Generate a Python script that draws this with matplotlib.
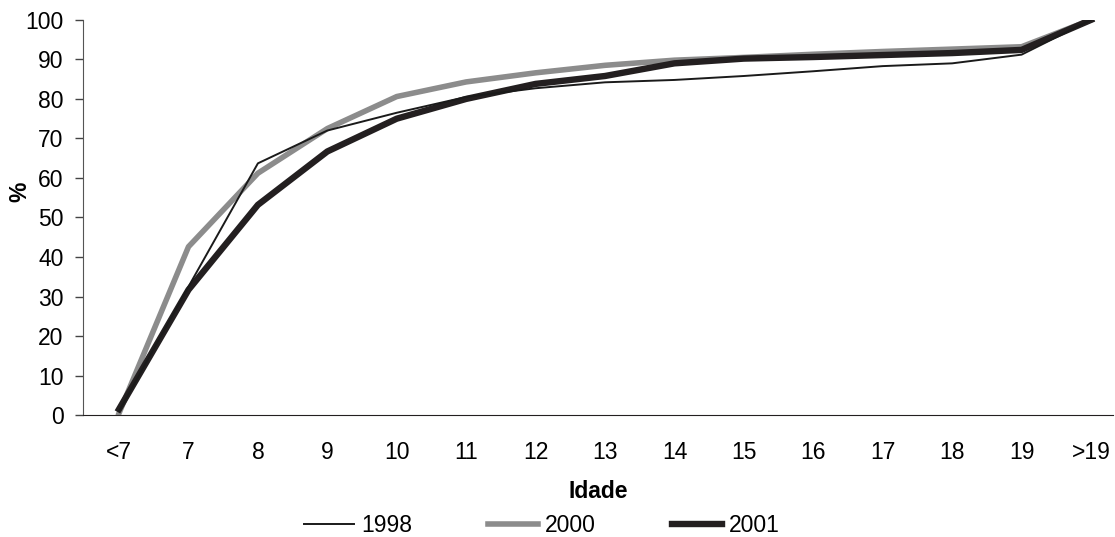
import matplotlib.pyplot as plt

plt.rcParams['font.family'] = ['Liberation Sans', 'DejaVu Sans']

idade = ['<7', '7', '8', '9', '10', '11', '12', '13', '14', '15', '16', '17', '18', '19', '>19']
v1998 = [1.0, 32.5, 63.7, 72.0, 76.5, 80.5, 82.7, 84.2, 84.8, 85.8, 87.0, 88.3, 89.0, 91.2, 100.0]
v2000 = [0.5, 42.6, 61.2, 72.5, 80.6, 84.3, 86.6, 88.5, 89.8, 90.5, 91.3, 92.0, 92.6, 93.2, 100.0]
v2001 = [1.5, 31.7, 53.2, 66.7, 75.0, 80.0, 83.8, 85.8, 89.0, 90.2, 90.6, 91.1, 91.6, 92.4, 100.0]

fig = plt.figure(figsize=(11.15, 5.37), dpi=100)
ax = fig.add_axes([0.0744, 0.227, 0.924, 0.736])

x = range(len(idade))
ax.plot(x, v1998, '-', color='#1a1a1a', lw=1.4, label='1998', zorder=4)
ax.plot(x, v2000, '-', color='#8c8c8c', lw=4.0, label='2000', zorder=2)
ax.plot(x, v2001, '-', color='#231f20', lw=4.6, label='2001', zorder=3)

ax.set_xlim(-0.52, 14.32)
ax.set_ylim(0, 100)
ax.set_yticks(range(0, 101, 10))
ax.set_xticks(list(x))
ax.set_xticklabels(idade)
ax.tick_params(axis='y', labelsize=16.5, length=6, width=1, color='#444444', pad=8)
ax.tick_params(axis='x', labelsize=16.5, length=0, pad=19)

for s in ['top', 'right']:
    ax.spines[s].set_visible(False)
ax.spines['left'].set_color('#555555')
ax.spines['bottom'].set_color('#231f20')

ax.set_xlabel('Idade', fontsize=16.5, fontweight='bold', labelpad=11)
ax.set_ylabel('%', fontsize=16.5, fontweight='bold')
ax.yaxis.set_label_coords(-0.05, 0.565)

fig.legend(loc='lower center', bbox_to_anchor=(0.486, -0.038), ncol=3, frameon=False,
           fontsize=16.5, handlelength=2.2, handletextpad=0.3, columnspacing=3.3)

fig.savefig('out.png', dpi=100)
